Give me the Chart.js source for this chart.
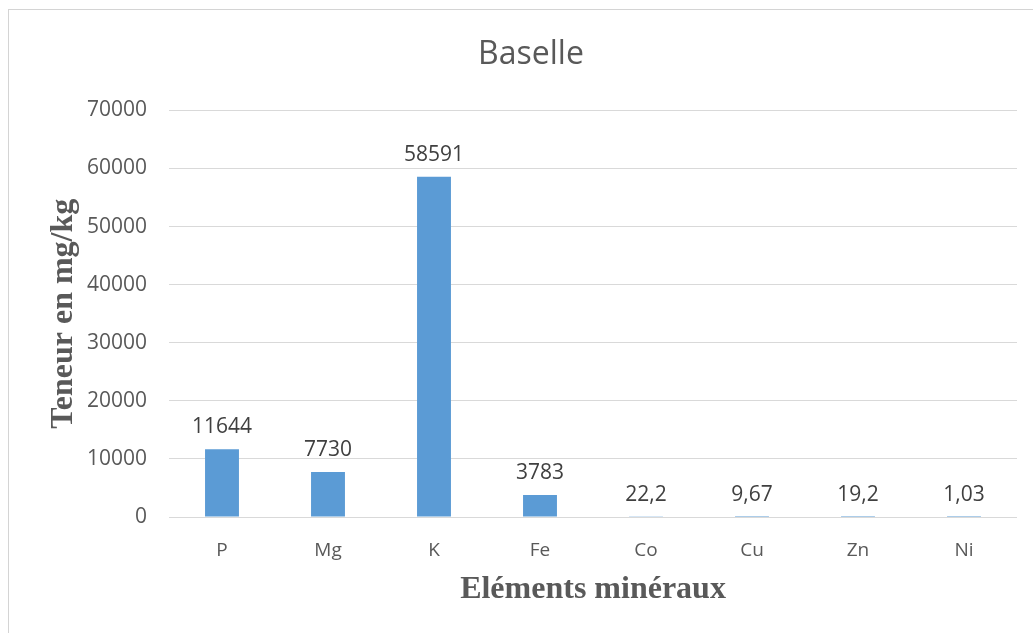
<!DOCTYPE html>
<html>
<head>
<meta charset="utf-8">
<script src="https://cdn.jsdelivr.net/npm/chart.js@4"></script>
<style>
  body { margin: 0; background: #fff; overflow: hidden; }
  #frame { position: absolute; left: 8px; top: 9px; width: 1030px; height: 640px; border: 1px solid #d4d4d4; }
  #wrap { position: absolute; left: 0; top: 0; width: 1033px; height: 633px; }
</style>
</head>
<body>
<div id="frame"></div>
<div id="wrap"><canvas id="mineralChart"></canvas></div>
<script>
var chartTitle = 'Baselle';
var elements = ['P', 'Mg', 'K', 'Fe', 'Co', 'Cu', 'Zn', 'Ni'];
var teneurs = [11644, 7730, 58591, 3783, 22.2, 9.67, 19.2, 1.03];
var yTicks = [0, 10000, 20000, 30000, 40000, 50000, 60000, 70000];

// draw the value above each bar (french decimal comma)
var valueLabels = {
  id: 'valueLabels',
  afterDatasetsDraw: function (chart) {
    var ctx = chart.ctx;
    var meta = chart.getDatasetMeta(0);
    ctx.save();
    ctx.font = '21px "Open Sans"';
    ctx.fillStyle = '#404040';
    ctx.textAlign = 'center';
    ctx.textBaseline = 'middle';
    meta.data.forEach(function (bar, i) {
      var txt = String(teneurs[i]).replace('.', ',');
      ctx.fillText(txt, bar.x, bar.y - 22);
    });
    ctx.restore();
  }
};

var chart = document.getElementById('mineralChart');

var mineralChart = new Chart(chart, {
  type: 'bar',
  data: {
    labels: elements,
    datasets: [{
      label: chartTitle,
      data: teneurs,
      backgroundColor: '#5b9bd5',
      categoryPercentage: 1,
      barPercentage: 0.32
    }]
  },
  options: {
    responsive: true,
    maintainAspectRatio: false,
    animation: false,
    layout: { padding: { left: 45, right: 16, top: 10, bottom: 24 } },
    plugins: {
      legend: { display: false },
      tooltip: { enabled: false },
      title: {
        display: true,
        text: chartTitle,
        color: '#595959',
        font: { family: 'Open Sans', size: 32, weight: 'normal' },
        padding: { top: 26, bottom: 36 }
      }
    },
    scales: {
      x: {
        afterFit: function (scale) { scale.height = 92; },
        grid: { display: false },
        border: { display: false },
        ticks: {
          color: '#595959',
          font: { family: 'Open Sans', size: 19 },
          padding: 14
        },
        title: {
          display: true,
          text: 'Eléments minéraux',
          color: '#595959',
          font: { family: 'Liberation Serif', size: 32, weight: 'bold' },
          padding: { top: 0, bottom: 0 }
        }
      },
      y: {
        min: 0,
        max: 70000,
        afterFit: function (scale) { scale.width = 124; },
        afterBuildTicks: function (scale) {
          scale.ticks = yTicks.map(function (v) { return { value: v }; });
        },
        grid: { color: '#d9d9d9', lineWidth: 1, drawTicks: false },
        border: { display: false },
        ticks: {
          color: '#595959',
          font: { family: 'Open Sans', size: 21 },
          padding: 22,
          callback: function (value) { return String(value); }
        },
        title: {
          display: true,
          text: 'Teneur en mg/kg',
          color: '#595959',
          font: { family: 'Liberation Serif', size: 32, weight: 'bold' },
          padding: { top: 0, bottom: 0 }
        }
      }
    }
  },
  plugins: [valueLabels]
});
</script>
</body>
</html>
